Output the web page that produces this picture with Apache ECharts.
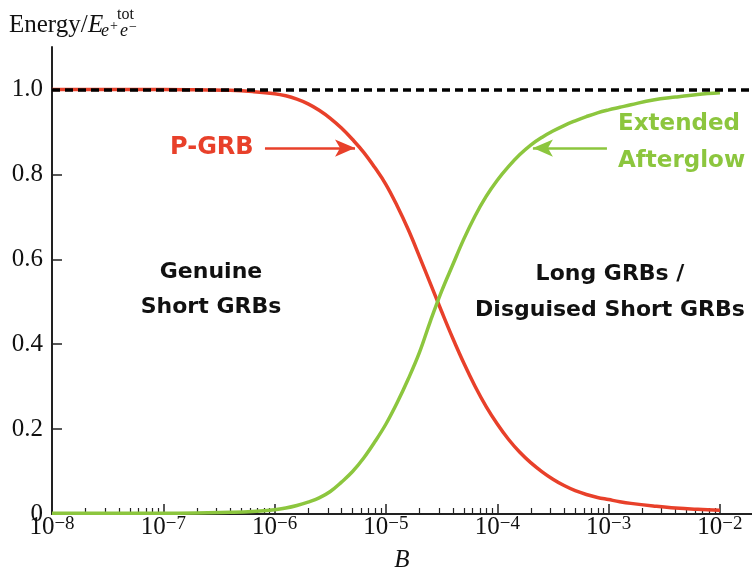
<!DOCTYPE html>
<html>
<head>
<meta charset="utf-8">
<script src="https://cdn.jsdelivr.net/npm/echarts@6/dist/echarts.min.js"></script>
<style>
  html, body { margin: 0; padding: 0; background: #fff; }
  #chart { width: 752px; height: 571px; }
</style>
</head>
<body>
<div id="chart"></div>
<script>
// Magnetic-field parameter B, as log10(B)
const logB = [-8, -7.5, -7, -6.6, -6.4, -6.2, -6.0,
              -5.9, -5.8, -5.7, -5.6, -5.5, -5.4, -5.3, -5.2, -5.1, -5.0,
              -4.9, -4.8, -4.7, -4.6, -4.5, -4.4, -4.3, -4.2, -4.1, -4.0,
              -3.9, -3.8, -3.7, -3.6, -3.5, -3.4, -3.3, -3.2, -3.1, -3.0,
              -2.9, -2.8, -2.6, -2.4, -2.2, -2.0];
// Fraction of the e+e- plasma energy emitted in the P-GRB
const pgrb = [1.0, 1.0, 1.0, 0.999, 0.998, 0.995, 0.99,
              0.985, 0.977, 0.966, 0.951, 0.932, 0.909, 0.882, 0.852, 0.816, 0.776,
              0.726, 0.67, 0.607, 0.542, 0.477, 0.414, 0.355, 0.301, 0.253, 0.212,
              0.176, 0.146, 0.121, 0.1, 0.082, 0.067, 0.055, 0.046, 0.039, 0.034,
              0.029, 0.025, 0.019, 0.014, 0.011, 0.009];
// Fraction left for the extended afterglow
const afterglow = [0.002, 0.002, 0.002, 0.003, 0.004, 0.006, 0.01,
                   0.014, 0.02, 0.028, 0.038, 0.053, 0.075, 0.1, 0.132, 0.17, 0.212,
                   0.262, 0.318, 0.38, 0.455, 0.525, 0.587, 0.648, 0.702, 0.748, 0.786,
                   0.818, 0.846, 0.869, 0.887, 0.902, 0.915, 0.926, 0.936, 0.945, 0.952,
                   0.958, 0.964, 0.975, 0.982, 0.988, 0.992];

const decadeTicks = [-8, -7, -6, -5, -4, -3, -2];
const yTickLabels = [0, 0.2, 0.4, 0.6, 0.8, 1.0];
const yTickMarks = [0.2, 0.4, 0.6, 0.8];
const totalLevel = 1.0;

// Arrow annotations: [from log10(B), to log10(B), energy level]
const pgrbArrow = [-6.087, -5.278, 0.862];
const afterglowArrow = [-3.015, -3.680, 0.862];

const RED = '#E8402A';
const GREEN = '#8CC63E';
const INK = '#111';
const SERIF = '"Liberation Serif", "DejaVu Serif", serif';
const SANS = '"DejaVu Sans", "Noto Sans", sans-serif';

// minor ticks at 2..9 × 10^n
const minorTicks = [];
for (let n = -8; n < -2; n++) {
  for (let k = 2; k <= 9; k++) minorTicks.push(n + Math.log10(k));
}

const xMax = -1.712;

const chart = echarts.init(document.getElementById('chart'), null, { renderer: 'canvas' });

const axisLineStyle = { color: '#222', width: 2 };

const option = {
  animation: false,
  grid: { left: 52, right: 0, top: 47, bottom: 57, outerBoundsMode: 'none', containLabel: false },
  xAxis: [
    {
      type: 'value', min: -8, max: xMax, interval: 1,
      axisLine: { show: true, lineStyle: axisLineStyle },
      axisTick: { show: true, inside: true, length: 10, customValues: decadeTicks,
                  lineStyle: { color: '#222', width: 1.5 } },
      axisLabel: {
        customValues: decadeTicks, margin: 1,
        formatter: v => '{b|10}{s|\u2212' + Math.abs(Math.round(v)) + '}',
        rich: {
          b: { fontFamily: SERIF, fontSize: 25, color: INK, lineHeight: 25, verticalAlign: 'bottom' },
          s: { fontFamily: SERIF, fontSize: 19, color: INK, lineHeight: 19, verticalAlign: 'top' }
        }
      },
      splitLine: { show: false },
      name: 'B', nameLocation: 'middle', nameGap: 34,
      nameTextStyle: { fontFamily: SERIF, fontStyle: 'italic', fontSize: 25, color: INK }
    },
    {
      type: 'value', min: -8, max: xMax, position: 'bottom',
      axisLine: { show: false },
      axisTick: { show: true, inside: true, length: 6, customValues: minorTicks,
                  lineStyle: { color: '#222', width: 1.2 } },
      axisLabel: { show: false },
      splitLine: { show: false }
    }
  ],
  yAxis: {
    type: 'value', min: 0, max: 1.1,
    axisLine: { show: true, lineStyle: axisLineStyle },
    axisTick: { show: true, inside: true, length: 10, customValues: yTickMarks,
                lineStyle: { color: '#222', width: 1.5 } },
    axisLabel: {
      customValues: yTickLabels, margin: 9,
      fontFamily: SERIF, fontSize: 25, color: INK,
      formatter: v => (v === 0 ? '0' : v.toFixed(1))
    },
    splitLine: { show: false }
  },
  series: [
    {
      name: 'P-GRB', type: 'line', z: 3,
      data: logB.map((x, i) => [x, pgrb[i]]),
      smooth: 0.4, showSymbol: false,
      lineStyle: { color: RED, width: 3.5 },
      markLine: {
        silent: true, symbol: ['none', 'arrow'], symbolSize: [13, 20],
        label: { show: false },
        lineStyle: { color: RED, width: 2.5, type: 'solid' },
        data: [[{ coord: [pgrbArrow[0], pgrbArrow[2]] }, { coord: [pgrbArrow[1], pgrbArrow[2]] }]]
      }
    },
    {
      name: 'Extended Afterglow', type: 'line', z: 3,
      data: logB.map((x, i) => [x, afterglow[i]]),
      smooth: 0.4, showSymbol: false,
      lineStyle: { color: GREEN, width: 3.5 },
      markLine: {
        silent: true, symbol: ['none', 'arrow'], symbolSize: [13, 20],
        label: { show: false },
        lineStyle: { color: GREEN, width: 2.5, type: 'solid' },
        data: [[{ coord: [afterglowArrow[0], afterglowArrow[2]] }, { coord: [afterglowArrow[1], afterglowArrow[2]] }]]
      }
    },
    {
      name: 'total', type: 'line', z: 5, data: [],
      markLine: {
        silent: true, symbol: ['none', 'none'],
        label: { show: false },
        lineStyle: { color: '#000', width: 3.5, type: [8, 5] },
        data: [{ yAxis: totalLevel }]
      }
    }
  ],
  graphic: [
    // y-axis title: Energy / E^tot_{e+e-}
    { type: 'text', x: 9, y: 25, style: { text: 'Energy/', font: '25px ' + SERIF, fill: INK, verticalAlign: 'middle' } },
    { type: 'text', x: 88, y: 25, style: { text: 'E', font: 'italic 25px ' + SERIF, fill: INK, verticalAlign: 'middle' } },
    { type: 'text', x: 117, y: 15, style: { text: 'tot', font: '16px ' + SERIF, fill: INK, verticalAlign: 'middle' } },
    { type: 'text', x: 101, y: 31, style: { text: 'e', font: 'italic 18px ' + SERIF, fill: INK, verticalAlign: 'middle' } },
    { type: 'text', x: 110, y: 26, style: { text: '+', font: '14px ' + SERIF, fill: INK, verticalAlign: 'middle' } },
    { type: 'text', x: 120, y: 31, style: { text: 'e', font: 'italic 18px ' + SERIF, fill: INK, verticalAlign: 'middle' } },
    { type: 'text', x: 129, y: 27, style: { text: '\u2212', font: '14px ' + SERIF, fill: INK, verticalAlign: 'middle' } },

    // annotations
    { type: 'text', x: 170, y: 148, style: { text: 'P-GRB', font: 'bold 24px ' + SANS, fill: RED, verticalAlign: 'middle' } },
    { type: 'text', x: 618, y: 143, style: { text: 'Extended\nAfterglow', font: 'bold 23px ' + SANS, fill: GREEN,
        verticalAlign: 'middle', lineHeight: 37 } },
    { type: 'text', x: 211, y: 290, style: { text: 'Genuine\nShort GRBs', font: 'bold 22px ' + SANS, fill: INK,
        align: 'center', verticalAlign: 'middle', lineHeight: 35 } },
    { type: 'text', x: 610, y: 292, style: { text: 'Long GRBs /\nDisguised Short GRBs', font: 'bold 22px ' + SANS, fill: INK,
        align: 'center', verticalAlign: 'middle', lineHeight: 36 } }
  ]
};

chart.setOption(option);
</script>
</body>
</html>
